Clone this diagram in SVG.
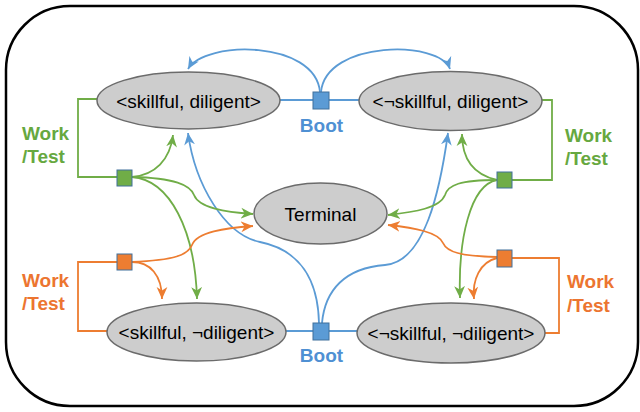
<svg xmlns="http://www.w3.org/2000/svg" width="640" height="412" viewBox="0 0 640 412">
<defs>
<style>
.frame{fill:#fff;stroke:#000;stroke-width:2.5}
.state{fill:#cdcdcd;stroke:#6b6b6b;stroke-width:1.5}
.lbl{font-family:"Liberation Sans",Arial,sans-serif;font-size:19px;fill:#000;text-anchor:middle}
.act{font-family:"Liberation Sans",Arial,sans-serif;font-size:19px;font-weight:bold}
.sq{stroke:#41719c;stroke-width:1}
.b{fill:none;stroke:#5b9bd5;stroke-width:1.8}
.g{fill:none;stroke:#70ad47;stroke-width:1.8}
.o{fill:none;stroke:#ed7d31;stroke-width:1.8}
.ba{marker-end:url(#ab)}
.ga{marker-end:url(#ag)}
.oa{marker-end:url(#ao)}
</style>
<marker id="ab" markerUnits="userSpaceOnUse" markerWidth="12" markerHeight="12" viewBox="0 0 10 10" refX="10" refY="5" orient="auto"><path d="M0,0.5 L10,5 L0,9.5 L3,5 z" fill="#5b9bd5"/></marker>
<marker id="ag" markerUnits="userSpaceOnUse" markerWidth="12" markerHeight="12" viewBox="0 0 10 10" refX="10" refY="5" orient="auto"><path d="M0,0.5 L10,5 L0,9.5 L3,5 z" fill="#70ad47"/></marker>
<marker id="ao" markerUnits="userSpaceOnUse" markerWidth="12" markerHeight="12" viewBox="0 0 10 10" refX="10" refY="5" orient="auto"><path d="M0,0.5 L10,5 L0,9.5 L3,5 z" fill="#ed7d31"/></marker>
</defs>
<rect class="frame" x="6" y="6" width="632" height="400" rx="64" ry="64"/>
<g id="connectors">
<!-- boot top -->
<path class="b" d="M280,100 L359,100"/>
<path class="b ba" d="M320,92 C315,40 205,40 188,69"/>
<path class="b ba" d="M321,92 C326,40 440,40 450,69"/>
<!-- boot bottom -->
<path class="b" d="M286,331 L357,331"/>
<path class="b ba" d="M319,323 C318,280 300,250 260,242 C225,235 195,185 188,133"/>
<path class="b ba" d="M322,323 C325,290 345,268 385,265 C425,262 440,190 448,133"/>
<!-- green left -->
<polyline class="g" points="97,99 78,99 78,177 117,177"/>
<path class="g ga" d="M132,177 C155,175 170,160 173,135"/>
<path class="g ga" d="M132,177 C175,178 190,185 194,195 C199,208 225,212 253,214"/>
<path class="g ga" d="M132,177 C170,180 195,230 197,299"/>
<!-- green right -->
<polyline class="g" points="542,100 552,100 552,180 512,180"/>
<path class="g ga" d="M497,180 C475,175 462,160 462,134"/>
<path class="g ga" d="M497,180 C460,180 448,185 445,195 C440,208 415,212 388,215"/>
<path class="g ga" d="M497,180 C470,185 458,240 460,298"/>
<!-- orange left -->
<polyline class="o" points="117,262 78,262 78,331 107,331"/>
<path class="o oa" d="M132,262 C175,260 188,255 192,245 C197,232 225,228 253,226"/>
<path class="o oa" d="M132,262 C150,262 162,275 162,299"/>
<!-- orange right -->
<polyline class="o" points="512,258 559,258 559,333 545,333"/>
<path class="o oa" d="M497,257 C460,256 447,252 443,243 C438,232 415,228 388,225"/>
<path class="o oa" d="M497,258 C480,262 472,280 474,299"/>
</g>
<g id="node-sd"><ellipse class="state" cx="188.5" cy="100.5" rx="91.5" ry="28.5"/><text class="lbl" x="188.5" y="108">&lt;skillful, diligent&gt;</text></g>
<g id="node-nsd"><ellipse class="state" cx="450.5" cy="101" rx="91.5" ry="29.5"/><text class="lbl" x="450.5" y="108">&lt;¬skillful, diligent&gt;</text></g>
<g id="node-terminal"><ellipse class="state" cx="320.5" cy="213.5" rx="66.5" ry="30.5"/><text class="lbl" x="320.5" y="221">Terminal</text></g>
<g id="node-snd"><ellipse class="state" cx="196.5" cy="332" rx="89.5" ry="29"/><text class="lbl" x="196.5" y="339">&lt;skillful, ¬diligent&gt;</text></g>
<g id="node-nsnd"><ellipse class="state" cx="451" cy="333" rx="94" ry="30"/><text class="lbl" x="451" y="340">&lt;¬skillful, ¬diligent&gt;</text></g>
<g id="boot-top"><rect class="sq" x="313" y="92" width="16" height="17" fill="#5b9bd5"/><text class="act" x="321.5" y="131.5" text-anchor="middle" fill="#4f90d3">Boot</text></g>
<g id="boot-bottom"><rect class="sq" x="313" y="323" width="16" height="17" fill="#5b9bd5"/><text class="act" x="321.5" y="361.5" text-anchor="middle" fill="#4f90d3">Boot</text></g>
<g id="work-green-left"><rect class="sq" x="117" y="170" width="15" height="16" fill="#70ad47"/><text class="act" fill="#66a840"><tspan x="22" y="140">Work</tspan><tspan x="22" y="163">/Test</tspan></text></g>
<g id="work-green-right"><rect class="sq" x="497" y="172" width="15" height="16" fill="#70ad47"/><text class="act" fill="#66a840"><tspan x="565" y="141.5">Work</tspan><tspan x="565" y="165">/Test</tspan></text></g>
<g id="work-orange-left"><rect class="sq" x="117" y="254" width="15" height="16" fill="#ed7d31"/><text class="act" fill="#ec7530"><tspan x="22" y="287">Work</tspan><tspan x="22" y="310">/Test</tspan></text></g>
<g id="work-orange-right"><rect class="sq" x="497" y="250" width="15" height="17" fill="#ed7d31"/><text class="act" fill="#ec7530"><tspan x="567" y="288">Work</tspan><tspan x="567" y="312">/Test</tspan></text></g>
</svg>
